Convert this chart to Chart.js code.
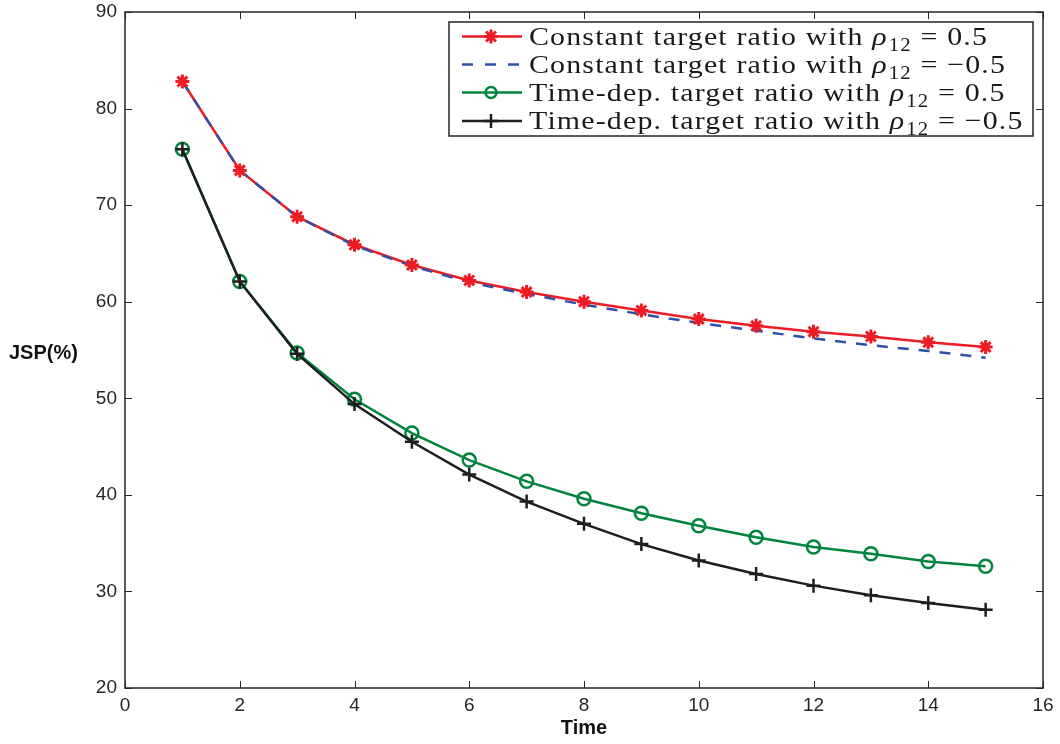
<!DOCTYPE html>
<html>
<head>
<meta charset="utf-8">
<script src="https://cdn.jsdelivr.net/npm/chart.js@4.4.1/dist/chart.umd.min.js"></script>
<style>
  html, body { margin: 0; padding: 0; background: #fff; }
  #wrap { width: 1060px; height: 744px; }
</style>
</head>
<body>
<div id="wrap"><canvas id="myChart" width="1060" height="744"></canvas></div>
<script>
const time = [1, 2, 3, 4, 5, 6, 7, 8, 9, 10, 11, 12, 13, 14, 15];
const constPos = [82.8, 73.6, 68.8, 65.9, 63.8, 62.2, 61.0, 60.0, 59.1, 58.2, 57.5, 56.9, 56.4, 55.8, 55.3];
const constNeg = [82.8, 73.6, 68.8, 65.8, 63.7, 62.0, 60.8, 59.7, 58.7, 57.8, 57.0, 56.2, 55.5, 54.9, 54.2];
const tdPos = [75.8, 62.1, 54.7, 49.9, 46.4, 43.6, 41.4, 39.6, 38.1, 36.8, 35.6, 34.6, 33.9, 33.1, 32.6];
const tdNeg = [75.8, 62.1, 54.6, 49.4, 45.5, 42.1, 39.3, 37.0, 34.9, 33.2, 31.8, 30.6, 29.6, 28.8, 28.1];

const xTicks = [0, 2, 4, 6, 8, 10, 12, 14, 16];
const yTicks = [20, 30, 40, 50, 60, 70, 80, 90];

const legendNames = ["Constant target ratio with ", "Constant target ratio with ", "Time-dep. target ratio with ", "Time-dep. target ratio with "];
const legendValues = [" = 0.5", " = \u22120.5", " = 0.5", " = \u22120.5"];

const RED = "rgb(237,28,36)";
const BLUE = "rgb(46,80,168)";
const GREEN = "rgb(0,132,62)";
const BLACK = "rgb(30,30,30)";
const AXIS = "#262626";
const SERIF = "'Liberation Serif', 'DejaVu Serif', serif";

function pts(arr) {
  return time.map((t, i) => ({ x: t, y: arr[i] }));
}

function legendRow(ctx, i, x, base, draw) {
  const start = x;
  ctx.font = "26px " + SERIF;
  if (draw) ctx.fillText(legendNames[i], x, base);
  x += ctx.measureText(legendNames[i]).width;
  ctx.font = "italic 26px " + SERIF;
  if (draw) ctx.fillText("\u03c1", x, base);
  x += ctx.measureText("\u03c1").width + 1;
  ctx.font = "18px " + SERIF;
  if (draw) ctx.fillText("12", x, base + 6);
  x += ctx.measureText("12").width;
  ctx.font = "26px " + SERIF;
  if (draw) ctx.fillText(legendValues[i], x, base);
  x += ctx.measureText(legendValues[i]).width;
  return x - start;
}

// box, inward ticks, axis titles and legend (MATLAB look)
const matlabLook = {
  id: "matlabLook",
  afterDatasetsDraw(chart) {
    const { ctx, chartArea: a, scales } = chart;
    ctx.save();
    ctx.strokeStyle = AXIS;
    ctx.lineWidth = 1.5;
    ctx.strokeRect(a.left, a.top, a.right - a.left, a.bottom - a.top);
    ctx.lineWidth = 1;
    const tl = 7;
    ctx.beginPath();
    xTicks.forEach((v) => {
      const px = Math.round(scales.x.getPixelForValue(v)) + 0.5;
      ctx.moveTo(px, a.bottom); ctx.lineTo(px, a.bottom - tl);
      ctx.moveTo(px, a.top); ctx.lineTo(px, a.top + tl);
    });
    yTicks.forEach((v) => {
      const py = Math.round(scales.y.getPixelForValue(v)) + 0.5;
      ctx.moveTo(a.left, py); ctx.lineTo(a.left + tl, py);
      ctx.moveTo(a.right, py); ctx.lineTo(a.right - tl, py);
    });
    ctx.stroke();

    // axis titles
    ctx.fillStyle = "#111";
    ctx.font = "bold 20px 'Liberation Sans', Arial, sans-serif";
    ctx.textBaseline = "middle";
    ctx.textAlign = "left";
    ctx.fillText("JSP(%)", 9, 353);
    ctx.textAlign = "center";
    ctx.fillText("Time", (a.left + a.right) / 2, 728);

    // legend
    const bx = 449, by = 22, bw = 584, bh = 114;
    ctx.fillStyle = "#fff";
    ctx.fillRect(bx, by, bw, bh);
    ctx.strokeStyle = AXIS;
    ctx.lineWidth = 1.5;
    ctx.strokeRect(bx, by, bw, bh);
    const rows = [36.5, 64.5, 92.5, 121];
    const ds = chart.data.datasets;
    const legendSets = [ds[2], ds[1], ds[3], ds[4]];
    ctx.textAlign = "left";
    ctx.textBaseline = "alphabetic";
    ctx.letterSpacing = "1px";
    const stretch = 459 / legendRow(ctx, 0, 0, 0, false);
    rows.forEach((ry, i) => {
      const d = legendSets[i];
      const lineColor = i === 0 ? RED : d.borderColor;
      ctx.save();
      ctx.strokeStyle = lineColor;
      ctx.lineWidth = 2.5;
      ctx.setLineDash(i === 1 ? [11, 12] : []);
      ctx.beginPath();
      ctx.moveTo(462, ry); ctx.lineTo(522, ry);
      ctx.stroke();
      ctx.restore();
      if (i !== 1) {
        ctx.save();
        ctx.strokeStyle = d.pointBorderColor;
        ctx.fillStyle = d.pointBackgroundColor;
        ctx.lineWidth = d.pointBorderWidth;
        Chart.helpers.drawPoint(ctx, {
          pointStyle: d.pointStyle,
          radius: d.pointStyle === "circle" ? 5.5 : d.pointRadius,
          borderWidth: d.pointBorderWidth,
        }, 491, ry);
        ctx.restore();
      }
      // text, stretched to the width of the LaTeX labels
      ctx.save();
      ctx.translate(529, ry + 8);
      ctx.scale(stretch, 1);
      ctx.fillStyle = "#1a1a1a";
      legendRow(ctx, i, 0, 0, true);
      ctx.restore();
    });
    ctx.restore();
  },
};

const ctx = document.getElementById("myChart");

new Chart(ctx, {
  type: "line",
  data: {
    datasets: [
      {
        label: "constPosLine",
        data: pts(constPos),
        borderColor: RED,
        borderWidth: 2.5,
        pointRadius: 0,
        order: 5,
      },
      {
        label: "Constant target ratio with rho12 = -0.5",
        data: pts(constNeg),
        borderColor: BLUE,
        borderWidth: 2.5,
        borderDash: [11, 10],
        pointRadius: 0,
        order: 4,
      },
      {
        label: "Constant target ratio with rho12 = 0.5",
        data: pts(constPos),
        showLine: false,
        borderColor: RED,
        pointStyle: "star",
        pointRadius: 7,
        pointBorderWidth: 3,
        pointBorderColor: RED,
        pointBackgroundColor: RED,
        order: 3,
      },
      {
        label: "Time-dep. target ratio with rho12 = 0.5",
        data: pts(tdPos),
        borderColor: GREEN,
        borderWidth: 2.5,
        pointStyle: "circle",
        pointRadius: 6.5,
        pointBorderWidth: 2.5,
        pointBorderColor: GREEN,
        pointBackgroundColor: "rgba(0,0,0,0)",
        order: 2,
      },
      {
        label: "Time-dep. target ratio with rho12 = -0.5",
        data: pts(tdNeg),
        borderColor: BLACK,
        borderWidth: 2.5,
        pointStyle: "cross",
        pointRadius: 7,
        pointBorderWidth: 2.5,
        pointBorderColor: BLACK,
        pointBackgroundColor: BLACK,
        order: 1,
      },
    ],
  },
  options: {
    responsive: false,
    animation: false,
    layout: { padding: { top: 12, right: 17, left: 0, bottom: 0 } },
    plugins: {
      legend: { display: false },
      tooltip: { enabled: false },
    },
    scales: {
      x: {
        type: "linear",
        min: 0,
        max: 16,
        afterFit: (s) => { s.height = 56; s.paddingLeft = 0; s.paddingRight = 0; },
        ticks: {
          stepSize: 2,
          padding: 6,
          color: AXIS,
          font: { family: "'Liberation Sans', Arial, sans-serif", size: 19 },
          maxRotation: 0,
        },
        grid: { display: false, drawTicks: false },
        border: { display: false },
      },
      y: {
        min: 20,
        max: 90,
        afterFit: (s) => { s.width = 125; s.paddingTop = 0; s.paddingBottom = 0; },
        ticks: {
          stepSize: 10,
          padding: 8,
          color: AXIS,
          font: { family: "'Liberation Sans', Arial, sans-serif", size: 19 },
        },
        grid: { display: false, drawTicks: false },
        border: { display: false },
      },
    },
  },
  plugins: [matlabLook],
});
</script>
</body>
</html>
